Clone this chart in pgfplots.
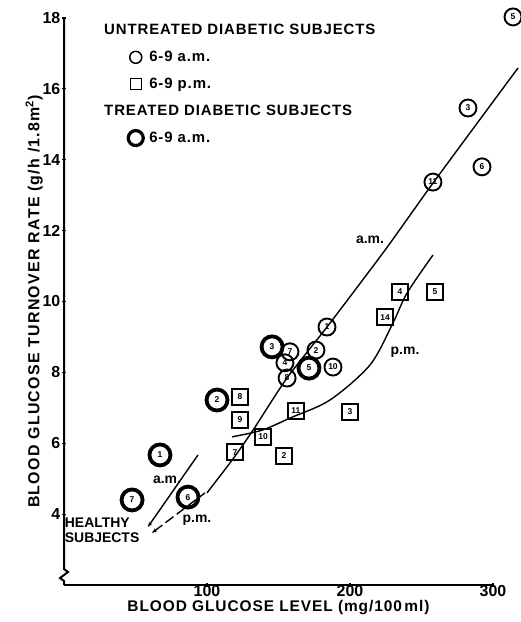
\documentclass[border=0pt]{standalone}
\usepackage{pgfplots}
\pgfplotsset{compat=1.18}
\usepackage{pgfplotstable}
\usepackage{fontspec}
\setmainfont{Liberation Sans}
\newfontfamily\spaced[LetterSpace=6]{Liberation Sans}
\newfontfamily\wide[LetterSpace=8]{Liberation Sans}
\usetikzlibrary{arrows.meta}

\pgfplotstableread{
x y lab
67.1 5.67 1
107.0 7.22 2
47.6 4.40 7
86.7 4.48 6
145.5 8.72 3
171.3 8.12 5
}\treated

\pgfplotstableread{
x y lab
183.9 9.28 1
176.2 8.63 2
258.0 13.37 11
282.5 15.46 3
292.3 13.80 6
314.0 18.03 5
158.0 8.58 7
154.5 8.27 4
156.0 7.84 8
188.1 8.15 10
}\untreatedam

\pgfplotstableread{
x y lab
123.1 7.31 8
123.1 6.66 9
119.6 5.75 7
139.2 6.18 10
153.8 5.64 2
162.2 6.91 11
200.0 6.88 3
224.5 9.56 14
235.0 10.27 4
259.4 10.27 5
}\untreatedpm

\pgfplotstableread{
x y
100.0 4.60
118.2 5.56
132.2 6.37
155.9 7.84
183.9 9.28
224.5 11.45
258.0 13.34
317.5 16.59
}\amline

\pgfplotstableread{
x y
117.5 6.18
138.5 6.37
158.0 6.71
186.0 7.22
214.0 8.21
230.0 9.39
239.9 10.24
258.0 11.31
}\pmline

\pgfplotstableread{
x y
58.7 3.64
93.7 5.67
}\healthyam

\pgfplotstableread{
x y
61.5 3.47
98.6 4.60
}\healthypm

\begin{document}
\begin{tikzpicture}
\begin{axis}[
  scale only axis,
  width=429bp, height=567bp,
  xmin=0, xmax=300, ymin=2, ymax=18,
  axis x line=bottom, axis y line=left,
  axis line style={-, line width=2bp},
  axis y discontinuity=crunch,
  clip=false,
  xtick={100,200,300},
  ytick={4,6,8,10,12,14,16,18},
  tick style={black, line width=1.2bp},
  major tick length=4bp,
  /pgf/number format/assume math mode=true,
  ticklabel style={font=\bfseries\fontsize{16}{16}\selectfont},
  xticklabel style={yshift=3bp, inner sep=1bp},
  yticklabel style={inner sep=1.5bp},
  xlabel={BLOOD GLUCOSE LEVEL (mg/100\,ml)},
  ylabel={BLOOD GLUCOSE TURNOVER RATE (g/h /1.8m\textsuperscript{2})},
  xlabel style={font=\spaced\bfseries\fontsize{15.5}{15.5}\selectfont, inner sep=0pt, yshift=-3bp},
  ylabel style={font=\wide\bfseries\fontsize{16}{16}\selectfont, inner sep=0pt, yshift=-2bp},
  legend style={draw=none, fill=none, at={(axis description cs:0.14,0.996)}, anchor=north west,
    font=\spaced\bfseries\fontsize{15}{15}\selectfont, row sep=11bp, cells={anchor=west}},
  untr/.style={only marks, mark=o, mark size=8.5bp, mark options={line width=1.9bp, black}},
  sq/.style={only marks, mark=square, mark size=8bp, mark options={line width=1.9bp, black}},
  trt/.style={only marks, mark=o, mark size=10.5bp, mark options={line width=3.8bp, black}},
  numlab/.style={nodes near coords, point meta=explicit symbolic,
    every node near coord/.append style={anchor=center, inner sep=0pt, font=\bfseries\fontsize{8.5}{8.5}\selectfont}},
]
\addlegendimage{empty legend}
\addlegendentry{\hspace*{-41bp}UNTREATED DIABETIC SUBJECTS}
\addlegendimage{untr, mark size=6bp, mark options={line width=1.5bp}}
\addlegendentry{\hspace*{4bp}6-9 a.m.}
\addlegendimage{sq, mark size=5.5bp, mark options={line width=1.5bp}}
\addlegendentry{\hspace*{4bp}6-9 p.m.}
\addlegendimage{empty legend}
\addlegendentry{\hspace*{-41bp}TREATED DIABETIC SUBJECTS}
\addlegendimage{trt, mark size=7.5bp, mark options={line width=3.2bp}}
\addlegendentry{\hspace*{4bp}6-9 a.m.}

\addplot[forget plot, no marks, black, line width=1.4bp, smooth, tension=0.4] table {\amline};
\addplot[forget plot, no marks, black, line width=1.4bp, smooth, tension=0.5] table {\pmline};
\addplot[forget plot, no marks, black, line width=1.4bp, arrows={Stealth[length=5bp]-}] table {\healthyam};
\addplot[forget plot, no marks, black, line width=1.4bp, dash pattern=on 10bp off 4bp, arrows={Stealth[length=5bp]-}] table {\healthypm};

\addplot[forget plot, untr, numlab] table[meta=lab] {\untreatedam};
\addplot[forget plot, sq, numlab] table[meta=lab] {\untreatedpm};
\addplot[forget plot, trt, numlab] table[meta=lab] {\treated};

\node[font=\bfseries\fontsize{14}{14}\selectfont] at (axis cs:214,11.73) {a.m.};
\node[font=\bfseries\fontsize{14}{14}\selectfont] at (axis cs:238.5,8.57) {p.m.};
\node[font=\bfseries\fontsize{14}{14}\selectfont] at (axis cs:72,4.96) {a.m.};
\node[font=\bfseries\fontsize{14}{14}\selectfont] at (axis cs:93,3.83) {p.m.};
\node[font=\bfseries\fontsize{14}{15}\selectfont, align=left, anchor=west, inner sep=0pt] at (axis cs:0.5,3.55) {HEALTHY\\SUBJECTS};

\coordinate (BL) at (axis cs:-44.76,0.956);
\coordinate (TR) at (axis cs:318.9,18.508);
\end{axis}
\pgfresetboundingbox
\useasboundingbox (BL) rectangle (TR);
\end{tikzpicture}
\end{document}
